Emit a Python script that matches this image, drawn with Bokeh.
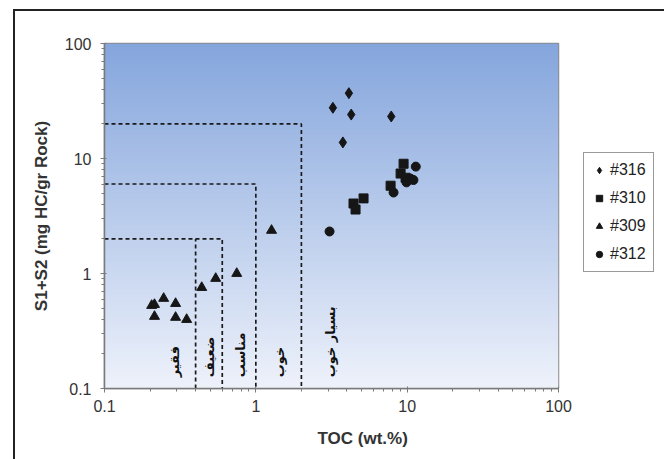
import numpy as np
from bokeh.plotting import figure
from bokeh.models import (Legend, LegendItem, Label, Title, FixedTicker)
from bokeh.embed import file_html
from bokeh.resources import INLINE

# ---- data ----
toc_316 = [4.12, 3.23, 4.27, 7.85, 3.76]
s_316 = [37.0, 27.6, 24.1, 23.2, 13.8]

toc_310 = [9.47, 9.05, 9.76, 7.77, 5.15, 4.42, 4.56]
s_310 = [9.0, 7.4, 6.8, 5.8, 4.5, 4.06, 3.6]

toc_309 = [0.205, 0.214, 0.246, 0.295, 0.214, 0.295, 0.349, 0.439, 0.543, 0.748, 1.27]
s_309 = [0.527, 0.537, 0.607, 0.548, 0.423, 0.415, 0.398, 0.755, 0.905, 1.0, 2.37]

toc_312 = [3.07, 11.4, 10.5, 9.9, 8.13, 11.0]
s_312 = [2.32, 8.5, 6.7, 6.2, 5.06, 6.5]

series_names = ["#316", "#310", "#309", "#312"]

# potential classes: TOC limit / S1+S2 limit
class_toc = [0.6, 1, 2]
class_s = [2, 6, 20]
poor_toc = 0.4
class_labels = ["فقیر", "ضعیف", "مناسب", "خوب", "بسیار خوب"]
class_label_x = [0.29, 0.494, 0.79, 1.44, 3.12]

x_ticks = [0.1, 1, 10, 100]
y_ticks = [0.1, 1, 10, 100]
xmin, xmax = 0.1, 100
ymin, ymax = 0.1, 100

p = figure(frame_width=454, frame_height=345, x_axis_type="log", y_axis_type="log",
           x_range=(xmin, xmax), y_range=(ymin, ymax),
           output_backend="svg", toolbar_location=None,
           min_border_left=89, min_border_right=97, min_border_top=32, min_border_bottom=71)
p.styles = {"margin-left": "13px", "margin-top": "9px",
            "border-left": "2px solid #222222", "border-top": "2px solid #222222",
            "border-right": "2px solid #222222"}
p.background_fill_color = "white"
p.border_fill_color = "white"
p.outline_line_color = "#8a8a8a"
p.outline_line_width = 1.5
p.grid.visible = False

# gradient background (blue top -> pale bottom)
n = 200
top = np.array([133, 166, 221])
bot = np.array([238, 242, 251])
t = np.linspace(0, 1, n)[:, None]
cols = (bot * (1 - t) + top * t).astype(np.uint32)
img = np.empty((n, 1), dtype=np.uint32)
view = img.view(dtype=np.uint8).reshape((n, 1, 4))
view[:, 0, 0] = cols[:, 0]
view[:, 0, 1] = cols[:, 1]
view[:, 0, 2] = cols[:, 2]
view[:, 0, 3] = 255
p.image_rgba(image=[img], x=xmin, y=ymin, dw=xmax - xmin, dh=ymax - ymin)

# dashed class boundaries
for tx, sy in zip(class_toc, class_s):
    p.line([xmin, tx, tx], [sy, sy, ymin], line_dash="4 3", line_color="#1a1a1a", line_width=1.7)
p.line([poor_toc, poor_toc], [ymin, class_s[0]], line_dash="4 3", line_color="#1a1a1a", line_width=1.7)

# class labels
for lx, lt in zip(class_label_x, class_labels):
    p.add_layout(Label(x=lx, y=0.125, text=lt, angle=np.pi / 2, text_align="left",
                       text_baseline="middle", text_font="DejaVu Sans",
                       text_font_size="13px", text_color="#111111", text_font_style="bold"))

mk = "#161616"
r1 = p.scatter(toc_316, s_316, marker="diamond", size=11, color=mk)
r2 = p.scatter(toc_310, s_310, marker="square", size=9, color=mk)
r3 = p.scatter(toc_309, s_309, marker="triangle", size=10, color=mk)
r4 = p.scatter(toc_312, s_312, marker="circle", size=9, color=mk)

legend = Legend(items=[LegendItem(label=series_names[0], renderers=[r1]),
                       LegendItem(label=series_names[1], renderers=[r2]),
                       LegendItem(label=series_names[2], renderers=[r3]),
                       LegendItem(label=series_names[3], renderers=[r4])],
                location=(25, 116))
legend.label_text_font = "Liberation Sans"
legend.label_text_font_size = "16px"
legend.label_text_color = "#222222"
legend.glyph_width = 16
legend.glyph_height = 20
legend.label_height = 20
legend.spacing = 8
legend.padding = 7
legend.margin = 0
legend.label_standoff = 3
legend.border_line_color = "#333333"
legend.border_line_width = 1.5
legend.background_fill_color = "white"
legend.background_fill_alpha = 1
p.add_layout(legend, "right")

# axes
for ax in (p.xaxis[0], p.yaxis[0]):
    ax.axis_line_color = "#7a7a7a"
    ax.axis_line_width = 1.5
    ax.major_tick_line_color = "#7a7a7a"
    ax.minor_tick_line_color = "#7a7a7a"
    ax.major_tick_in = 2
    ax.major_tick_out = 4
    ax.minor_tick_in = 0
    ax.minor_tick_out = 3
    ax.major_label_text_font = "Liberation Sans"
    ax.major_label_text_font_size = "16px"
    ax.major_label_text_color = "#333333"
    ax.axis_label_text_font = "Liberation Sans"
    ax.axis_label_text_font_style = "bold"
    ax.axis_label_text_font_size = "17px"
    ax.axis_label_text_color = "#333333"
minor = [m * d for d in [0.1, 1, 10] for m in range(2, 10)]
p.xaxis[0].ticker = FixedTicker(ticks=x_ticks, minor_ticks=minor)
p.yaxis[0].ticker = FixedTicker(ticks=y_ticks, minor_ticks=minor)
p.xaxis[0].major_label_overrides = {0.1: "0.1", 1: "1", 10: "10", 100: "100"}
p.yaxis[0].major_label_overrides = {0.1: "0.1", 1: "1", 10: "10", 100: "100"}
p.xaxis[0].major_label_standoff = 7
p.yaxis[0].major_label_standoff = 9
p.yaxis[0].axis_label = "S1+S2 (mg HC/gr Rock)"
p.yaxis[0].axis_label_standoff = 11

p.add_layout(Title(text="TOC (wt.%)", align="left", offset=213, standoff=24,
                   text_font="Liberation Sans", text_font_style="bold",
                   text_font_size="17px", text_color="#333333"), "below")

open("out.html", "w").write(file_html(p, INLINE))
